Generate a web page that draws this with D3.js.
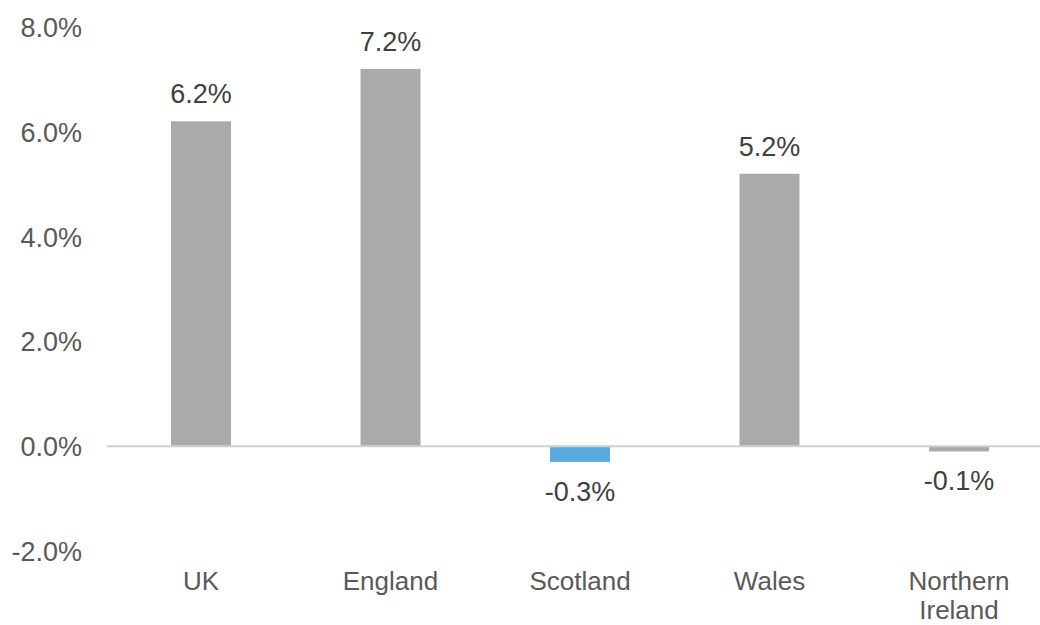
<!DOCTYPE html>
<html>
<head>
<meta charset="utf-8">
<script src="https://cdn.jsdelivr.net/npm/d3@7"></script>
<style>
  html, body { margin: 0; padding: 0; background: #fff; }
  svg { display: block; font-family: "Liberation Sans", Arial, sans-serif; }
</style>
</head>
<body>
<svg id="chart" width="1040" height="625"></svg>
<script>
// Population change by nation (%)
const regions = ["UK", "England", "Scotland", "Wales", "Northern Ireland"];
const changes = [6.2, 7.2, -0.3, 5.2, -0.1];
const highlighted = ["Scotland"];
const yTicks = [-2, 0, 2, 4, 6, 8];

const svg = d3.select("#chart");
const W = 1040;

const x = d3.scaleBand()
  .domain(regions)
  .range([106.25, 1053.75])
  .paddingInner(0.6834)
  .paddingOuter(0.3417);

const y = d3.scaleLinear()
  .domain([-2, 8])
  .range([551, 27]);

const fmt = d => d.toFixed(1) + "%";

// Y axis labels (no axis line or gridlines)
const yAxis = d3.axisLeft(y)
  .tickValues(yTicks)
  .tickFormat(fmt)
  .tickSize(0)
  .tickPadding(0);

const yg = svg.append("g")
  .attr("transform", "translate(82,0)")
  .call(yAxis);
yg.select(".domain").remove();
yg.selectAll("text")
  .attr("font-size", 27)
  .attr("font-family", "Liberation Sans, Arial, sans-serif")
  .attr("fill", "#595959")
  .attr("dy", "0.35em");

const data = regions.map((r, i) => ({ region: r, value: changes[i] }));

// Bars
svg.append("g")
  .selectAll("rect")
  .data(data)
  .join("rect")
  .attr("x", d => x(d.region))
  .attr("width", x.bandwidth())
  .attr("y", d => y(Math.max(0, d.value)))
  .attr("height", d => Math.abs(y(d.value) - y(0)))
  .attr("fill", d => highlighted.includes(d.region) ? "#5aaae0" : "#a8aaac");

// Zero baseline
svg.append("line")
  .attr("x1", 107).attr("x2", W)
  .attr("y1", y(0)).attr("y2", y(0))
  .attr("stroke", "#cfcfcf")
  .attr("stroke-width", 2);

// Value labels
svg.append("g")
  .selectAll("text")
  .data(data)
  .join("text")
  .attr("x", d => x(d.region) + x.bandwidth() / 2)
  .attr("y", d => d.value >= 0 ? y(d.value) - 18 : y(d.value) + 39)
  .attr("text-anchor", "middle")
  .attr("font-size", 27)
  .attr("fill", "#404040")
  .text(d => fmt(d.value));

// Category labels, wrapped onto two lines where needed
const xg = svg.append("g");
regions.forEach(r => {
  const words = r.split(" ");
  const t = xg.append("text")
    .attr("x", x(r) + x.bandwidth() / 2)
    .attr("y", 590)
    .attr("text-anchor", "middle")
    .attr("font-size", 26)
    .attr("fill", "#595959");
  words.forEach((w, i) => {
    t.append("tspan")
      .attr("x", x(r) + x.bandwidth() / 2)
      .attr("dy", i === 0 ? 0 : 29)
      .text(w);
  });
});
</script>
</body>
</html>
